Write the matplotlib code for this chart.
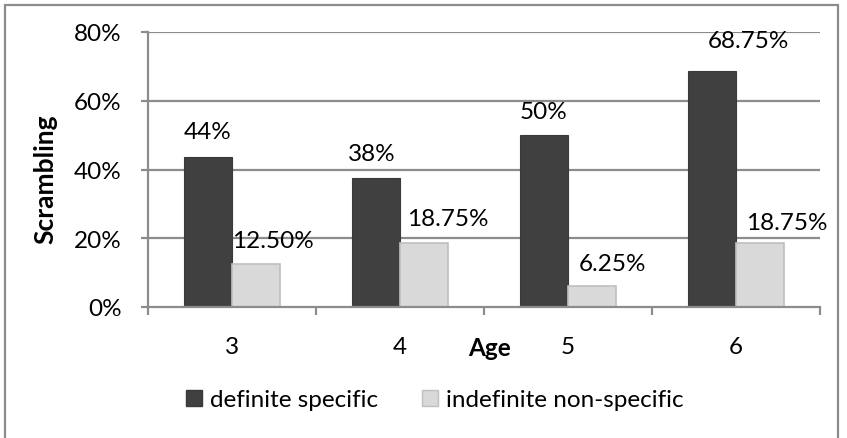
import matplotlib
matplotlib.use("Agg")
import matplotlib.pyplot as plt
from matplotlib.patches import Rectangle, Patch

plt.rcParams['font.family'] = ['Lato', 'DejaVu Sans']

ages = ["3", "4", "5", "6"]
definite = [43.75, 37.5, 50.0, 68.75]
indefinite = [12.5, 18.75, 6.25, 18.75]
definite_labels = ["44%", "38%", "50%", "68.75%"]
indefinite_labels = ["12.50%", "18.75%", "6.25%", "18.75%"]
yticks = [0, 20, 40, 60, 80]
ytick_labels = ["0%", "20%", "40%", "60%", "80%"]

# label offsets in pixels (style)
def_dx = [0, -4, 0, 36]
def_dy = [25, 25, 24, 30]
ind_dx = [17, 24, 20, 27]
ind_dy = [24, 24, 22, 20]

W, H = 847, 439
fig = plt.figure(figsize=(W / 100, H / 100), dpi=100)
fig.patch.set_facecolor("white")

ax = fig.add_axes([148 / W, (H - 308) / H, 672 / W, 275 / H])
grid_c = "#8c8c8c"
dark = "#404040"
light = "#d9d9d9"

n = len(ages)
centers = [i + 0.5 for i in range(n)]
bw = 48 / 168
ax.set_xlim(0, n)
ax.set_ylim(0, 80)

for y in yticks[1:]:
    ax.axhline(y, color=grid_c, lw=1.6, zorder=0)

ax.bar([c - bw / 2 for c in centers], definite, width=bw, color=dark,
       edgecolor="#3a3a3a", lw=0.8, zorder=2)
ax.bar([c + bw / 2 for c in centers], indefinite, width=bw, color=light,
       edgecolor="#bfbfbf", lw=1.2, zorder=2)

fs = 17.5
for i, c in enumerate(centers):
    ax.annotate(definite_labels[i], (c - bw / 2, definite[i]),
                xytext=(def_dx[i], def_dy[i]), textcoords="offset pixels",
                ha="center", va="center", fontsize=fs, color="black")
    ax.annotate(indefinite_labels[i], (c + bw / 2, indefinite[i]),
                xytext=(ind_dx[i], ind_dy[i]), textcoords="offset pixels",
                ha="center", va="center", fontsize=fs, color="black")

for s in ["top", "right"]:
    ax.spines[s].set_visible(False)
for s in ["left", "bottom"]:
    ax.spines[s].set_color(grid_c)
    ax.spines[s].set_linewidth(1.6)

ax.set_yticks(yticks)
ax.set_yticklabels(ytick_labels, fontsize=fs)
ax.tick_params(axis="y", length=5, width=1.6, color=grid_c, pad=14)

ax.set_xticks(centers)
ax.set_xticklabels(ages, fontsize=fs)
ax.set_xticks(range(n + 1), minor=True)
ax.tick_params(axis="x", which="major", length=0, pad=21)
ax.tick_params(axis="x", which="minor", length=6, width=1.6, color=grid_c)

ax.text((490 - 148) / 672, -(348 - 308) / 275, "Age", transform=ax.transAxes,
        ha="center", va="center", fontsize=fs, fontweight="bold")
fig.text(45 / W, 1 - 179 / H, "Scrambling", rotation=90, ha="center",
         va="center", fontsize=19, fontweight="bold")

handles = [Patch(facecolor=dark, edgecolor="#3a3a3a", label="definite specific"),
           Patch(facecolor=light, edgecolor="#bfbfbf", label="indefinite non-specific")]
fig.legend(handles=handles, loc="center", bbox_to_anchor=(435 / W, 1 - 401 / H),
           ncol=2, frameon=False, fontsize=fs, handlelength=0.65,
           handleheight=0.65, handletextpad=0.35, columnspacing=1.8)

fig.patches.append(Rectangle((5 / W, -0.1), 833 / W, 1.1 - 6 / H,
                             transform=fig.transFigure, fill=False,
                             edgecolor="#8c8c8c", lw=1.6))

fig.savefig("out.png", dpi=100, facecolor="white")
